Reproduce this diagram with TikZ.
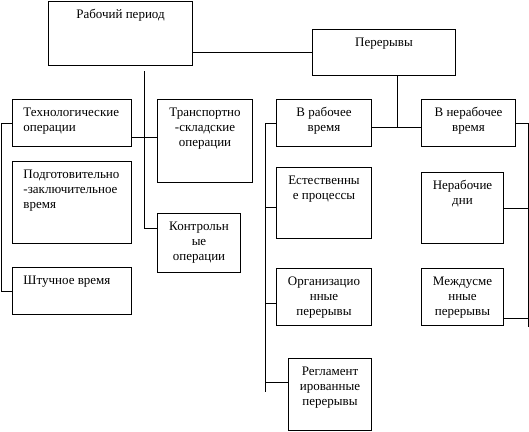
\documentclass[tikz,border=0pt]{standalone}
\usepackage{fontspec}
\setmainfont{Liberation Serif}
\usetikzlibrary{positioning}
\tikzstyle{block} = [rectangle, 
			draw, 
			inner sep = 0pt, 
			anchor = north west]
\newcommand{\blockc}[3]{\parbox[c][#2pt][t]{#1pt}{\centering\rule{0pt}{17pt}#3}}
\newcommand{\blockl}[3]{\parbox[c][#2pt][t]{#1pt}{\raggedright\leftskip=11pt\rule{0pt}{17pt}#3}}
\begin{document}
\begin{tikzpicture}[x = 1pt, y = -1pt, line width = 1pt, font = \fontsize{13pt}{15pt}\selectfont]
	\useasboundingbox (0,0) rectangle (529,431);
	\node [block] (period) at (48,1) {\blockc{144}{64}{Рабочий период}};
	\node [block] (breaks) at (312,29) {\blockc{143}{46}{Перерывы}};
	\node [block] (tech) at (12,99) {\blockl{119}{47}{Технологические\\операции}};
	\node [block] (prep) at (12,161) {\blockl{119}{82}{Подготовительно\\-заключительное\\время}};
	\node [block] (piece) at (12,267) {\blockl{119}{47}{Штучное время}};
	\node [block] (transport) at (157,99) {\blockc{95}{83}{Транспортно\\-складские\\операции}};
	\node [block] (control) at (157,213) {\blockc{83}{59}{Контрольн\\ые\\операции}};
	\node [block] (work) at (276,99) {\blockc{95}{47}{В рабочее\\время}};
	\node [block] (nonwork) at (421,99) {\blockc{94}{47}{В нерабочее\\время}};
	\node [block] (natural) at (276,167) {\blockc{95}{71}{Естественны\\е процессы}};
	\node [block] (org) at (276,268) {\blockc{95}{57}{Организацио\\нные\\перерывы}};
	\node [block] (regl) at (288,358) {\blockc{83}{72}{Регламент\\ированные\\перерывы}};
	\node [block] (nonworkdays) at (421,172) {\blockc{82}{71}{Нерабочие\\дни}};
	\node [block] (shift) at (421,268) {\blockc{82}{57}{Междусме\\нные\\перерывы}};
	% period branch
	\draw (breaks.west) -- (breaks.west -| period.east);
	\coordinate (pstem) at (144,71);
	\coordinate (pfoot) at (144,228);
	\draw (pstem) -- (pfoot) -- (pfoot -| control.west);
	\coordinate (ptee) at (144,137);
	\draw (ptee -| tech.east) -- (ptee -| transport.west);
	\draw (tech.west) -- ++(-11,0) |- (piece.west);
	% breaks branch
	\coordinate (bfoot) at (397,127);
	\draw (bfoot |- breaks.south) -- (bfoot);
	\draw (bfoot -| work.east) -- (bfoot -| nonwork.west);
	\draw (work.west) -- ++(-11,0) coordinate (wtop) -- ++(0,269);
	\draw ([yshift=-4.5pt]natural.west) -- ++(-11,0);
	\draw ([yshift=-6.5pt]org.west) -- ++(-11,0);
	\draw ([yshift=12pt]regl.west) -- ++(-23,0);
	\draw (nonwork.east) -- ++(12,0) coordinate (ntop) -- ++(0,204);
	\draw (nonworkdays.east) -- (ntop |- nonworkdays.east);
	\draw ([yshift=-21.5pt]shift.east) -- ++(24,0);
\end{tikzpicture}
\end{document}
